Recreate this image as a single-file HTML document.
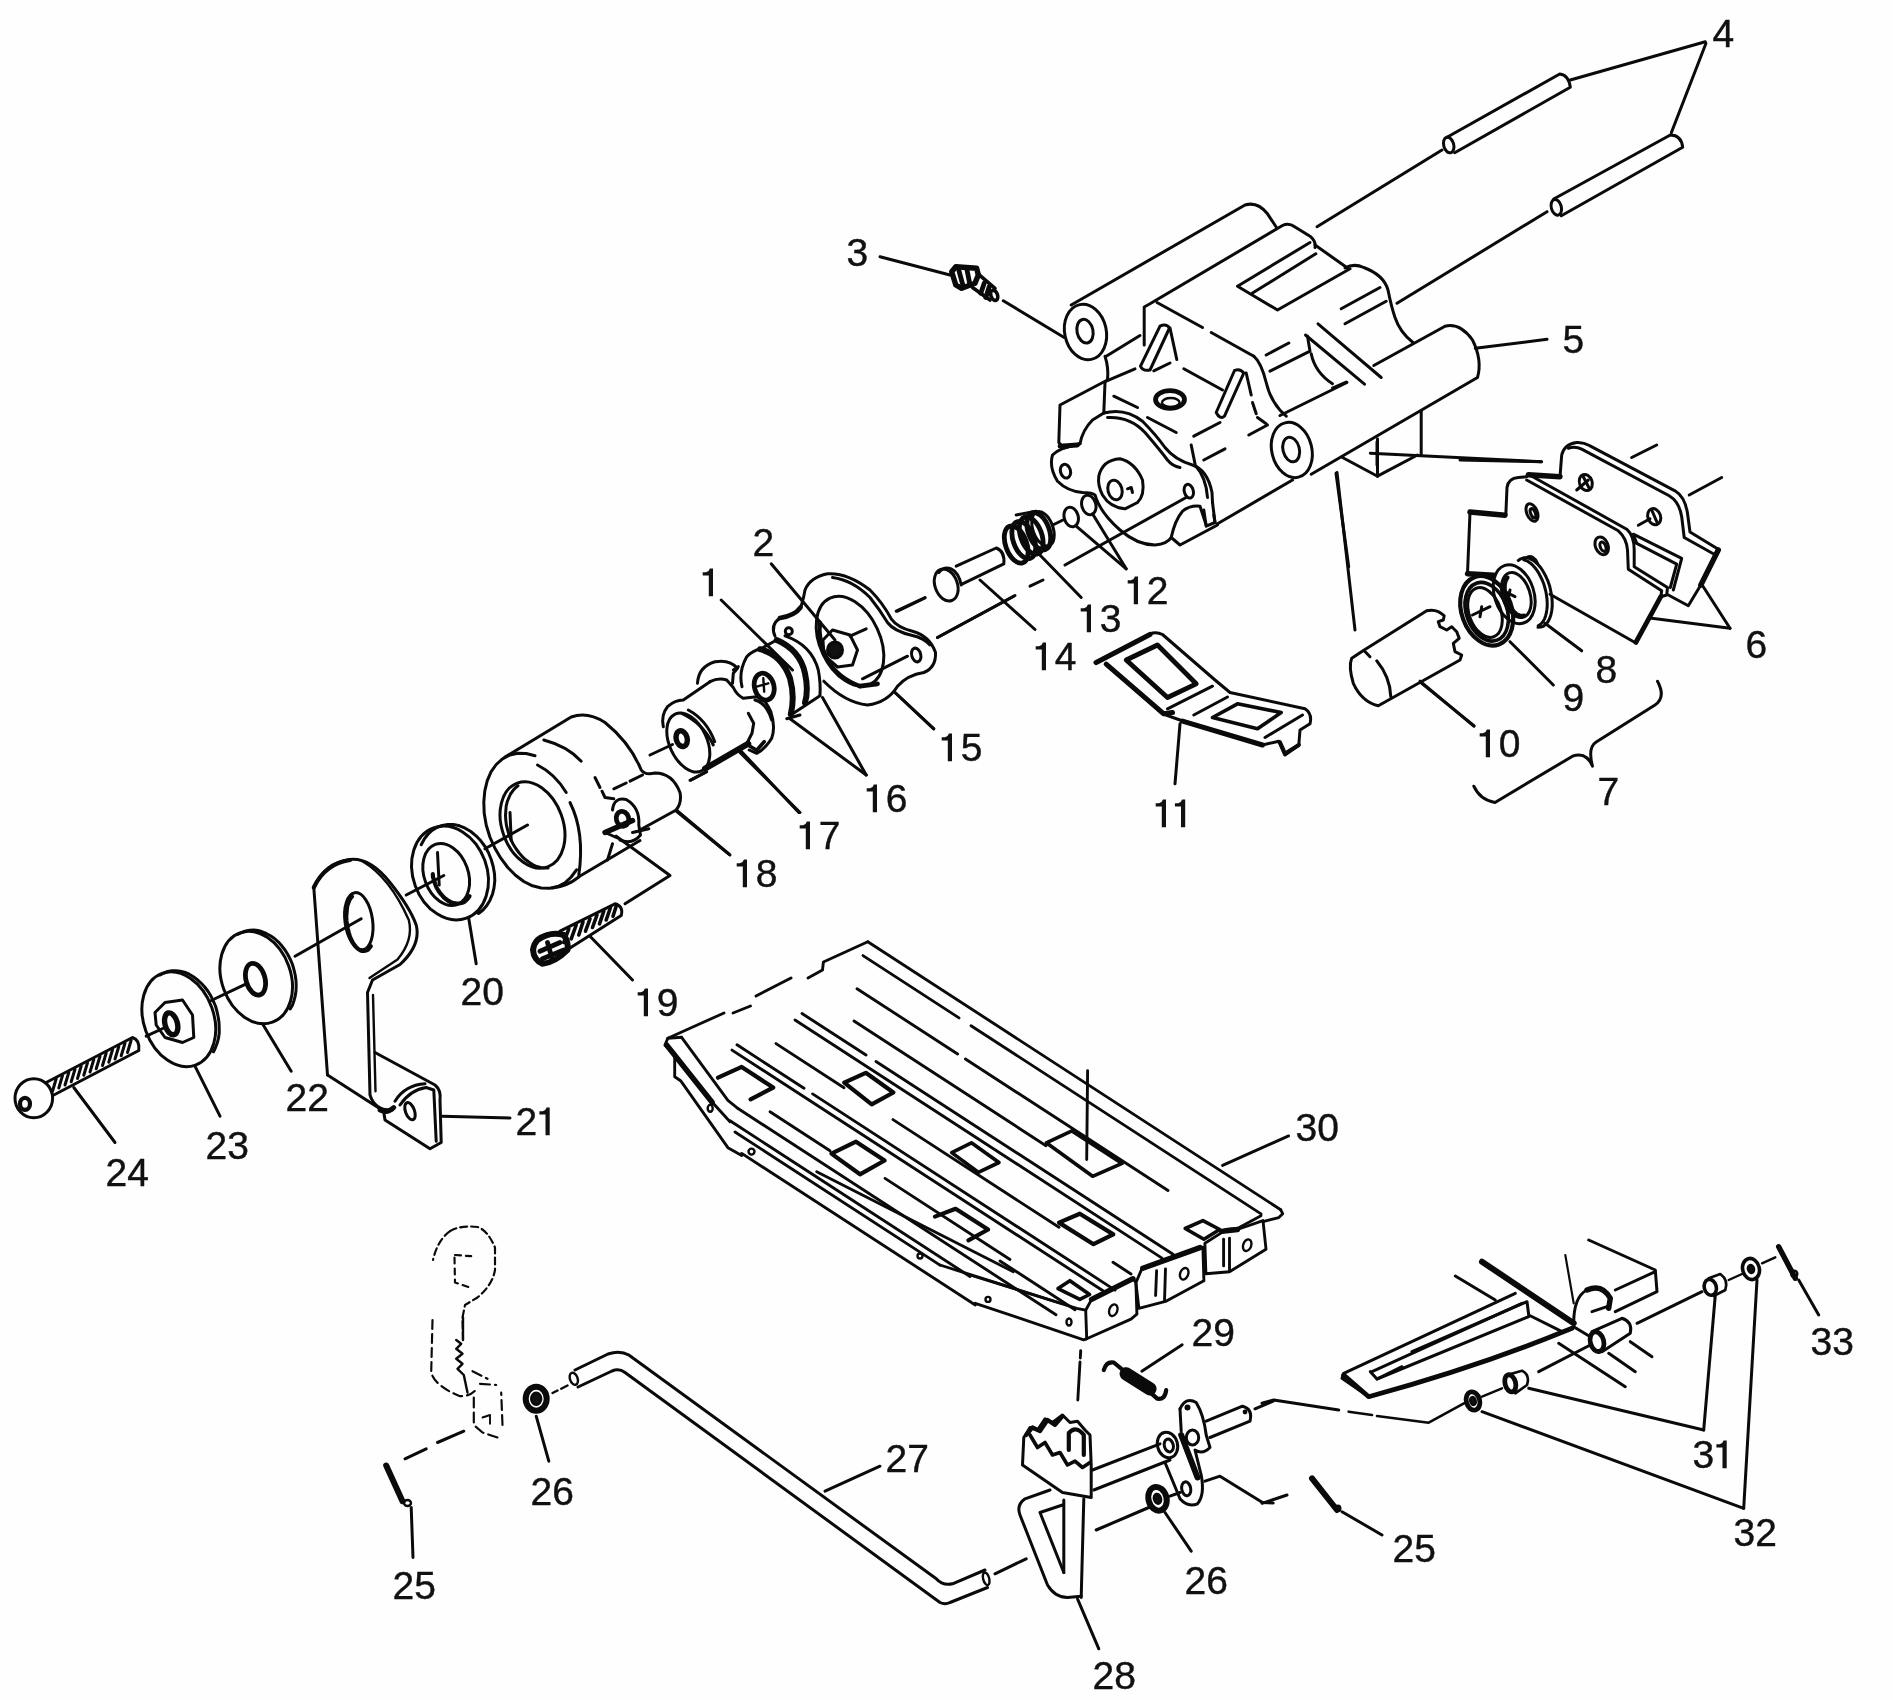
<!DOCTYPE html><html><head><meta charset="utf-8"><style>html,body{margin:0;padding:0;background:#fff}svg{display:block;filter:blur(0.45px)}text{font-family:"Liberation Sans",sans-serif;font-size:39px;fill:#111;stroke:#111;stroke-width:0.4px}</style></head><body>
<svg width="1893" height="1700" viewBox="0 0 1893 1700"><rect width="1893" height="1700" fill="#fefefe"/>
<g fill="none" stroke="#0a0a0a" stroke-linecap="round" stroke-linejoin="round">
<path stroke-width="3.00" d="M 1071.2 305.0 L 1245.0 205.0 Q 1257.5 201.2 1267.5 213.8 L 1276.2 227.0"/>
<path stroke-width="3.00" d="M 1106.2 356.2 L 1140.0 335.5"/>
<path stroke-width="3.00" d="M 1144.2 345.0 L 1144.2 307.0 L 1150.0 303.8 L 1282.5 225.5 Q 1288.8 222.5 1295.0 227.0 L 1310.0 236.2 Q 1316.2 241.2 1315.0 247.5"/>
<path stroke-width="3.00" d="M 1315.0 245.0 L 1347.5 268.0"/>
<path stroke-width="3.00" d="M 1345.0 268.0 Q 1353.8 263.0 1363.8 267.5 Q 1383.8 275.0 1388.0 290.0 Q 1391.2 306.2 1395.0 317.5 Q 1400.0 332.5 1413.0 342.5"/>
<path stroke-width="3.00" d="M 1310.0 242.5 L 1237.5 286.2 L 1277.5 310.0 L 1350.0 268.8"/>
<path stroke-width="3.00" d="M 1252.5 293.0 L 1315.8 253.8"/>
<path stroke-width="3.00" d="M 1341.2 308.8 L 1380.0 287.5"/>
<path stroke-width="3.00" d="M 1345.0 323.8 L 1386.2 301.2"/>
<path stroke-width="3.00" d="M 1318.0 323.8 L 1381.2 377.5"/>
<path stroke-width="3.00" d="M 1305.5 335.0 L 1364.5 384.2"/>
<path stroke-width="3.00" d="M 1157.0 302.5 L 1202.5 327.5"/>
<path stroke-width="3.00" d="M 1211.2 332.5 L 1253.8 356.2"/>
<path stroke-width="3.00" d="M 1183.8 368.8 L 1222.5 390.0"/>
<path stroke-width="3.00" d="M 1113.8 396.2 L 1137.5 407.5"/>
<path stroke-width="3.00" d="M 1147.5 417.5 L 1176.2 432.5"/>
<path stroke-width="3.00" d="M 1266.2 355.0 L 1288.8 343.0"/>
<path stroke-width="3.00" d="M 1270.0 371.2 L 1310.0 351.2 L 1307.5 336.2"/>
<path stroke-width="3.00" d="M 1311.2 353.8 Q 1315.0 372.5 1332.5 383.8"/>
<path stroke-width="3.00" d="M 1332.5 388.0 L 1346.2 382.0"/>
<path stroke-width="3.00" d="M 1253.8 356.2 Q 1261.2 362.5 1266.2 382.5 Q 1271.2 403.8 1286.2 416.2"/>
<path stroke-width="3.00" d="M 1280.0 415.5 L 1347.0 382.5"/>
<path stroke-width="3.00" d="M 1373.8 365.5 L 1445.0 326.2 Q 1460.0 322.5 1472.5 340.0 Q 1482.5 360.0 1477.5 377.5 L 1311.2 474.2"/>
<path stroke-width="3.00" d="M 1342.5 457.5 L 1377.5 476.2 L 1417.5 455.0"/>
<path stroke-width="3.00" d="M 1377.5 438.8 L 1377.5 476.2"/>
<path stroke-width="3.00" d="M 1421.2 411.2 L 1421.2 455.0"/>
<path stroke-width="3.00" d="M 1105.0 356.2 Q 1108.8 367.5 1107.5 380.0 L 1060.0 405.0 L 1058.8 442.5 L 1063.8 448.0 L 1080.0 443.8 Q 1082.5 430.0 1092.5 420.0 L 1103.8 413.0"/>
<path stroke-width="3.00" d="M 1106.2 381.2 L 1135.0 368.8"/>
<path stroke-width="3.00" d="M 1103.8 413.0 L 1105.0 382.5"/>
<path stroke-width="4.80" d="M 1060.0 446.2 L 1077.5 445.0"/>
<path stroke-width="3.00" d="M 1160.0 326.2 L 1140.5 366.2 Q 1142.5 371.2 1150.0 370.0 L 1169.5 328.0 Q 1166.2 323.0 1160.0 326.2"/>
<path stroke-width="3.00" d="M 1170.0 328.0 L 1176.8 359.5"/>
<path stroke-width="3.00" d="M 1153.8 370.8 L 1170.0 363.0"/>
<path stroke-width="3.00" d="M 1234.5 370.5 L 1216.2 412.5 Q 1220.0 420.0 1224.5 416.2 L 1243.8 373.0 Q 1240.0 368.0 1234.5 370.5"/>
<path stroke-width="3.00" d="M 1246.2 373.0 L 1251.2 395.0"/>
<path stroke-width="3.00" d="M 1252.5 402.5 L 1256.2 413.8"/>
<path stroke-width="3.00" d="M 1257.5 417.5 L 1266.2 423.8"/>
<path stroke-width="3.00" d="M 1193.8 436.2 L 1220.0 422.5"/>
<path stroke-width="3.00" d="M 1203.8 460.0 L 1225.0 448.8"/>
<path stroke-width="3.00" d="M 1248.8 435.0 L 1267.5 425.0"/>
<path stroke-width="3.00" d="M 1191.2 445.0 L 1195.0 463.8"/>
<path stroke-width="3.00" d="M 1103.8 413.0 Q 1125.0 407.5 1142.5 421.2 Q 1156.2 435.0 1165.0 447.5 Q 1175.0 460.0 1192.5 465.0 Q 1207.5 470.0 1212.0 492.5 L 1212.5 502.5"/>
<path stroke-width="3.00" d="M 1107.5 417.5 Q 1130.0 416.2 1145.0 432.5 Q 1160.0 450.0 1167.5 460.0 Q 1172.5 466.2 1180.0 467.5"/>
<path stroke-width="3.00" d="M 1195.0 465.0 Q 1206.2 477.5 1207.5 497.5"/>
<path stroke-width="3.00" d="M 1080.0 443.8 Q 1060.0 447.5 1052.5 455.0 Q 1048.8 467.5 1057.5 481.2 Q 1067.5 491.2 1082.5 492.5 Q 1092.5 492.5 1095.0 495.0 Q 1100.0 512.5 1120.0 530.0 Q 1137.5 545.0 1155.0 545.0 Q 1167.5 543.8 1171.2 537.5 Q 1175.0 520.0 1182.5 511.2 Q 1190.0 505.0 1200.0 506.2 L 1206.2 525.0"/>
<path stroke-width="3.00" d="M 1171.2 537.5 L 1180.0 545.0 L 1217.5 525.0"/>
<path stroke-width="3.00" d="M 1203.8 510.0 L 1206.2 526.2 L 1215.0 522.5 L 1213.8 515.0"/>
<path stroke-width="3.00" d="M 1212.5 502.5 L 1215.0 522.5"/>
<path stroke-width="3.00" d="M 1217.5 523.8 L 1292.5 480.0"/>
<path stroke-width="3.00" d="M 1098.8 476.2 Q 1102.5 460.0 1120.0 458.8 Q 1135.0 462.5 1142.5 480.0 Q 1145.0 495.0 1137.5 502.5 L 1125.0 508.8 Q 1110.0 507.5 1102.5 495.0 Q 1097.5 485.0 1098.8 476.2"/>
<path stroke-width="3.00" d="M 1127.5 488.8 L 1131.2 487.5 L 1132.5 492.5"/>
<path stroke-width="3.00" d="M 1447.0 137.3 L 1559.7 74.0 Q 1568.7 75.0 1570.3 87.3 L 1454.7 152.7"/>
<path stroke-width="3.00" d="M 1553.7 199.0 L 1670.3 135.0 Q 1681.3 135.0 1682.7 147.3 L 1561.3 215.7"/>
<path stroke-width="3.00" d="M 1442.0 150.0 L 1317.0 226.7"/>
<path stroke-width="3.00" d="M 1547.0 211.7 L 1397.0 303.3"/>
<path stroke-width="3.00" d="M 1705.3 41.7 L 1570.3 80.0"/>
<path stroke-width="3.00" d="M 1706.0 43.3 L 1671.3 132.7"/>
<path stroke-width="3.00" d="M 1475.3 348.3 L 1547.0 339.3"/>
<path stroke-width="3.00" d="M 1370.3 453.3 L 1541.3 461.7"/>
<path stroke-width="3.00" d="M 1377.0 441.7 L 1377.0 465.0"/>
<path stroke-width="3.00" d="M 1336.0 473.3 L 1348.7 566.7"/>
<path stroke-width="5.40" d="M 1470.0 512.0 L 1505.0 515.3"/>
<path stroke-width="3.00" d="M 1505.8 515.3 L 1507.0 487.5 Q 1508.3 478.3 1518.3 477.5 L 1526.7 476.7"/>
<path stroke-width="3.00" d="M 1528.3 474.2 L 1626.7 529.2 Q 1634.2 535.8 1634.2 550.0 L 1634.2 566.7 L 1667.5 587.5 L 1666.7 595.0 L 1660.8 596.7 L 1661.7 590.8 L 1628.3 569.2 L 1627.5 550.0 Q 1626.7 538.3 1618.3 530.8 L 1526.7 480.0"/>
<path stroke-width="4.80" d="M 1660.8 596.7 L 1635.8 642.5"/>
<path stroke-width="3.00" d="M 1635.0 642.5 L 1550.0 594.2"/>
<path stroke-width="3.00" d="M 1470.0 512.5 L 1467.5 573.3"/>
<path stroke-width="5.40" d="M 1467.5 573.7 L 1493.3 575.3"/>
<path stroke-width="5.40" d="M 1528.3 474.7 L 1560.0 476.7"/>
<path stroke-width="3.00" d="M 1560.0 476.7 L 1561.7 455.0 Q 1564.2 444.2 1576.7 442.5 Q 1583.3 442.0 1590.0 445.8 L 1675.0 490.8 Q 1685.0 496.7 1687.5 513.3 L 1690.0 532.0 L 1718.3 549.2"/>
<path stroke-width="3.00" d="M 1568.3 448.3 Q 1575.0 445.8 1581.7 449.2 L 1669.2 495.8 Q 1679.2 501.7 1681.7 516.7 L 1684.2 537.5 L 1714.2 554.2"/>
<path stroke-width="5.40" d="M 1718.3 550.0 L 1700.8 585.0"/>
<path stroke-width="3.00" d="M 1700.8 585.0 L 1688.3 605.8 L 1668.3 595.0"/>
<path stroke-width="3.00" d="M 1633.3 534.2 L 1681.7 558.3 L 1673.3 590.0"/>
<path stroke-width="3.00" d="M 1636.7 543.3 L 1676.7 564.2 L 1670.3 587.5"/>
<path stroke-width="3.00" d="M 1636.7 543.3 L 1634.2 536.7"/>
<path stroke-width="3.00" d="M 1576.7 490.0 L 1588.3 480.0"/>
<path stroke-width="3.00" d="M 1583.3 476.7 L 1589.2 488.3"/>
<path stroke-width="3.00" d="M 1638.3 525.3 L 1650.0 518.7"/>
<path stroke-width="3.00" d="M 1651.7 510.0 L 1657.5 523.3"/>
<path stroke-width="3.00" d="M 1631.7 457.5 L 1656.7 445.0"/>
<path stroke-width="3.00" d="M 1689.2 495.0 L 1721.7 477.5"/>
<path stroke-width="3.00" d="M 1730.0 628.3 L 1651.7 618.3"/>
<path stroke-width="3.00" d="M 1730.0 628.3 L 1703.3 586.7"/>
<path stroke-width="3.00" d="M 1460.0 460.0 L 1541.7 461.7"/>
<path stroke-width="3.00" d="M 1545.0 623.3 L 1581.7 650.8"/>
<path stroke-width="3.00" d="M 1510.0 641.7 L 1553.3 685.0"/>
<path stroke-width="3.00" d="M 1526.7 557.5 Q 1533.3 554.2 1537.5 563.3"/>
<path stroke-width="3.00" d="M 1501.7 590.0 L 1515.0 596.7 M 1510.0 590.0 L 1508.3 598.3"/>
<path stroke-width="3.00" d="M 1472.5 615.0 L 1490.0 606.7 M 1481.7 606.7 L 1480.0 616.7"/>
<path stroke-width="3.00" d="M 1473.8 786.2 Q 1480.0 800.0 1495.0 802.5 L 1572.5 756.2 Q 1586.2 751.2 1592.5 766.2 Q 1587.5 747.5 1596.2 742.0 L 1655.0 705.0 Q 1666.2 697.5 1657.5 681.2"/>
<path stroke-width="3.00" d="M 1420.0 681.2 L 1473.8 726.2"/>
<path stroke-width="3.00" d="M 1518.3 560.5 L 1520.8 558.8 L 1523.5 557.8 L 1526.3 557.7 L 1529.2 558.3 L 1532.2 559.8 L 1535.2 561.8 L 1538.2 564.7 L 1541.0 568.0 L 1543.5 572.0 L 1545.8 576.3 L 1548.0 581.2 L 1549.7 586.2 L 1550.8 591.3 L 1551.8 596.5 L 1552.2 601.7 L 1552.2 606.5 L 1551.7 611.0 L 1550.8 615.2 L 1549.5 618.8 L 1547.8 622.0 L 1545.7 624.3 L 1543.3 626.2 L 1540.8 627.0 L 1538.0 627.3"/>
<path stroke-width="3.00" d="M 1523.8 559.8 L 1526.0 560.5 L 1528.3 561.7 L 1530.5 563.2 L 1532.7 565.2 L 1534.8 567.5 L 1536.8 570.2 L 1538.8 573.2 L 1540.5 576.5 L 1542.2 580.0 L 1543.7 583.7 L 1544.8 587.5 L 1545.8 591.3 L 1546.5 595.2 L 1547.0 599.2 L 1547.2 602.8 L 1547.2 606.5 L 1546.8 610.0 L 1546.3 613.2 L 1545.5 616.2 L 1544.5 618.8 L 1543.3 621.2 L 1541.8 623.0 L 1540.2 624.5 L 1538.3 625.7"/>
<path stroke-width="4.20" d="M 1524.2 615.7 L 1522.8 615.8 L 1521.3 615.8 L 1519.8 615.7 L 1518.3 615.0 L 1516.8 614.3 L 1515.5 613.2 L 1514.0 611.8 L 1512.5 610.3 L 1511.2 608.7 L 1510.0 606.7 L 1508.8 604.7 L 1507.7 602.3 L 1506.8 600.2 L 1506.0 597.8 L 1505.5 595.3 L 1505.0 593.0 L 1504.7 590.7 L 1504.7 588.3 L 1504.7 586.2 L 1504.8 584.0 L 1505.3 582.2 L 1505.8 580.3 L 1506.7 578.8 L 1507.5 577.5"/>
<path stroke-width="3.00" d="M 1095.0 662.5 L 1150.0 633.8 Q 1156.2 631.2 1162.5 634.5 L 1215.0 680.0 L 1230.0 692.5 L 1305.0 708.8 Q 1312.5 713.8 1310.0 723.8 L 1300.0 730.0 L 1298.8 745.0 L 1285.0 755.0 L 1278.8 741.2 L 1262.5 745.0 L 1180.0 720.0 L 1162.5 713.8 L 1106.2 663.8"/>
<path stroke-width="5.04" d="M 1096.2 662.5 L 1150.0 634.5"/>
<path stroke-width="5.04" d="M 1106.2 664.2 L 1163.8 713.8 L 1172.5 712.5"/>
<path stroke-width="5.04" d="M 1182.5 721.2 L 1262.5 745.0"/>
<path stroke-width="4.80" d="M 1126.2 660.0 L 1157.5 645.0 L 1196.2 683.8 L 1167.5 697.5 Z"/>
<path stroke-width="3.00" d="M 1167.5 708.8 L 1212.5 686.2"/>
<path stroke-width="3.00" d="M 1193.8 715.0 L 1227.5 697.0"/>
<path stroke-width="3.60" d="M 1212.5 717.5 L 1237.5 703.8 L 1281.2 712.5 L 1257.5 728.8 Z"/>
<path stroke-width="3.00" d="M 1265.0 737.5 L 1302.5 715.0"/>
<path stroke-width="4.20" d="M 1280.0 742.5 L 1285.0 753.8 L 1298.8 745.0"/>
<path stroke-width="3.00" d="M 1180.0 723.8 L 1175.0 783.8"/>
<path stroke-width="3.00" d="M 956.2 566.2 L 996.2 548.0 Q 1005.0 551.2 1003.8 563.8 L 962.5 583.8"/>
<path stroke-width="3.00" d="M 938.8 572.5 Q 943.8 566.2 951.2 568.8 Q 958.8 572.5 961.2 585.0"/>
<path stroke-width="3.00" d="M 1016.2 515.0 L 1036.2 511.2"/>
<path stroke-width="3.00" d="M 1126.2 568.8 L 1076.2 526.2"/>
<path stroke-width="3.00" d="M 1126.2 568.8 L 1092.5 513.8"/>
<path stroke-width="3.00" d="M 1081.2 597.5 L 1037.5 552.5"/>
<path stroke-width="3.00" d="M 1035.0 629.5 L 980.0 580.0"/>
<path stroke-width="3.00" d="M 896.2 611.2 L 925.0 597.5"/>
<path stroke-width="3.00" d="M 937.5 637.5 L 1013.8 596.2"/>
<path stroke-width="3.00" d="M 1030.0 586.2 L 1043.0 580.0"/>
<path stroke-width="3.00" d="M 1065.0 565.0 L 1187.0 497.0"/>
<path stroke-width="3.00" d="M 1053.8 524.5 L 1063.0 520.0"/>
<path stroke-width="3.00" d="M 895.0 692.5 L 933.8 728.8"/>
<path stroke-width="3.00" d="M 1337.0 472.5 L 1355.0 630.0"/>
<path stroke-width="3.00" d="M 775.0 636.2 Q 770.0 625.0 780.0 618.0 Q 795.0 616.2 801.2 606.2 Q 803.8 597.5 805.0 590.0 Q 810.0 577.5 827.5 573.8 Q 847.5 572.5 870.0 590.0 Q 882.5 602.5 891.2 618.8 Q 897.5 627.5 912.5 631.2 Q 930.0 636.2 935.5 652.5 Q 936.2 667.5 923.8 672.5 Q 907.5 675.0 897.5 686.2 Q 887.5 702.5 867.5 705.0 Q 845.0 702.5 823.8 681.2"/>
<path stroke-width="3.00" d="M 832.5 577.5 Q 852.5 580.0 870.0 597.5 Q 880.0 610.0 887.5 622.5 Q 893.8 631.2 912.5 635.5 Q 923.8 638.0 930.0 645.0"/>
<path stroke-width="4.80" d="M 780.0 618.0 Q 795.0 615.5 800.5 607.5"/>
<path stroke-width="3.00" d="M 823.0 640.0 L 832.5 630.0 L 850.0 635.0 L 857.5 650.0 L 852.5 665.0 L 837.5 667.0 L 823.8 655.0 Z"/>
<path stroke-width="3.00" d="M 850.0 636.2 L 866.2 628.8"/>
<path stroke-width="4.20" d="M 820.0 622.5 Q 817.5 640.0 827.5 660.0 Q 837.5 677.5 860.0 686.2"/>
<path stroke-width="4.80" d="M 860.0 686.2 L 877.5 683.8"/>
<path stroke-width="3.00" d="M 907.5 656.2 L 862.5 678.8"/>
<path stroke-width="3.00" d="M 650.0 755.0 L 672.5 744.5"/>
<path stroke-width="3.00" d="M 691.2 780.0 L 706.2 772.0"/>
<path stroke-width="3.00" d="M 721.2 600.0 L 792.5 670.0"/>
<path stroke-width="3.00" d="M 771.2 563.8 L 835.0 640.0"/>
<path stroke-width="3.00" d="M 895.0 692.5 L 933.8 728.8"/>
<path stroke-width="3.00" d="M 866.2 775.0 L 822.5 697.5"/>
<path stroke-width="3.00" d="M 866.2 775.0 L 790.0 718.8"/>
<path stroke-width="3.00" d="M 798.8 812.5 L 741.2 751.2"/>
<path stroke-width="3.00" d="M 730.0 855.0 L 676.2 811.2"/>
<path stroke-width="3.00" d="M 897.5 611.2 L 925.0 598.0"/>
<path stroke-width="3.00" d="M 937.5 637.5 L 1015.0 595.5"/>
<path stroke-width="3.00" d="M 663.3 726.7 Q 660.8 715.0 667.5 706.7 Q 675.0 700.0 683.3 700.0 L 710.0 681.7"/>
<path stroke-width="3.00" d="M 681.7 713.3 Q 703.3 723.3 713.3 745.0"/>
<path stroke-width="3.00" d="M 688.3 710.0 Q 706.7 720.0 714.7 741.7"/>
<path stroke-width="6.00" d="M 705.0 768.7 L 748.3 743.7"/>
<path stroke-width="3.00" d="M 690.0 780.3 L 706.7 771.7"/>
<path stroke-width="3.00" d="M 697.5 683.3 Q 698.3 666.7 715.0 661.7 Q 730.0 659.2 737.5 668.3 L 733.3 673.3 L 732.5 683.3"/>
<path stroke-width="3.00" d="M 710.0 681.7 Q 718.3 677.5 726.7 680.0 L 733.3 687.5 Q 736.7 695.0 743.3 698.3 L 756.7 696.7 Q 765.0 698.3 770.8 711.7 Q 775.8 726.7 771.7 738.3 Q 765.0 749.2 756.7 753.3 L 749.2 750.0"/>
<path stroke-width="3.00" d="M 738.3 666.7 L 733.3 670.0"/>
<path stroke-width="3.00" d="M 748.3 713.3 L 753.7 723.3 L 752.0 733.3 L 746.7 743.7"/>
<path stroke-width="3.60" d="M 748.3 745.3 L 756.7 750.3 L 764.2 741.7"/>
<path stroke-width="3.00" d="M 755.0 700.0 Q 766.7 703.3 771.7 720.0"/>
<path stroke-width="3.00" d="M 742.0 686.7 Q 738.3 671.7 746.7 656.7 Q 753.3 650.0 760.0 649.2 L 776.7 640.0"/>
<path stroke-width="6.00" d="M 760.0 649.2 Q 781.7 655.0 790.0 678.3 Q 795.0 696.7 790.8 714.2"/>
<path stroke-width="6.00" d="M 776.7 640.0 Q 800.0 650.0 805.0 673.3 Q 808.7 690.0 805.0 702.5"/>
<path stroke-width="3.00" d="M 785.0 635.8 Q 811.7 645.0 818.3 670.0 Q 820.8 683.3 820.0 695.0"/>
<path stroke-width="3.00" d="M 790.8 715.0 L 820.0 695.8"/>
<path stroke-width="3.00" d="M 786.7 718.7 L 800.0 715.0"/>
<path stroke-width="2.40" d="M 756.7 686.7 L 768.3 683.3 M 763.3 678.3 L 764.2 691.7"/>
<path stroke-width="3.00" d="M 576.5 869.8 L 571.2 877.0 L 565.0 882.8 L 557.8 886.5 L 549.8 888.2 L 541.2 888.0 L 532.5 885.8 L 523.8 881.5 L 515.5 875.2 L 507.8 867.5 L 500.8 858.2 L 494.8 848.0 L 489.8 836.8 L 486.2 825.0 L 484.2 813.2 L 483.8 801.8 L 484.8 790.8 L 487.2 780.8 L 491.0 771.8 L 496.2 764.5 L 502.5 758.8 L 509.8 755.0 L 517.8 753.2 L 526.2 753.5 L 535.0 755.8"/>
<path stroke-width="3.00" d="M 543.8 740.0 Q 567.5 746.2 581.2 761.2"/>
<path stroke-width="3.00" d="M 537.5 765.0 Q 555.0 773.8 566.2 792.5"/>
<path stroke-width="3.00" d="M 570.0 802.5 Q 585.0 832.5 578.8 875.0"/>
<path stroke-width="3.00" d="M 552.5 888.0 Q 567.5 886.2 578.8 877.0"/>
<path stroke-width="3.00" d="M 505.0 757.0 L 571.2 717.0 Q 587.5 711.2 605.0 722.5 Q 630.0 742.5 641.2 770.0 Q 645.0 775.5 655.0 773.0 Q 672.5 773.0 680.0 792.5 Q 682.0 802.5 676.2 810.0 L 641.2 829.2"/>
<path stroke-width="3.00" d="M 640.0 840.5 L 578.8 876.8"/>
<path stroke-width="3.00" d="M 612.5 810.0 Q 613.8 797.0 626.2 799.5 Q 640.0 807.5 638.8 825.0 L 640.5 835.0 Q 632.5 845.0 620.0 840.0"/>
<path stroke-width="5.40" d="M 605.0 832.5 L 632.5 820.5"/>
<path stroke-width="3.00" d="M 605.0 832.5 L 617.5 838.0"/>
<path stroke-width="3.00" d="M 612.5 843.8 L 607.5 860.0"/>
<path stroke-width="3.00" d="M 632.5 832.5 L 648.8 828.8"/>
<path stroke-width="3.00" d="M 613.8 788.8 L 626.2 783.0 M 630.0 781.2 L 642.5 775.0"/>
<path stroke-width="3.00" d="M 595.0 777.5 L 600.0 787.5 M 602.0 791.2 L 605.0 797.5 L 613.8 798.8"/>
<path stroke-width="3.00" d="M 485.0 848.8 L 527.5 825.0"/>
<path stroke-width="3.00" d="M 510.0 812.5 L 511.2 840.5"/>
<path stroke-width="3.00" d="M 676.2 810.0 L 728.8 853.8"/>
<path stroke-width="3.00" d="M 740.0 752.5 L 800.0 812.5"/>
<path stroke-width="3.00" d="M 616.2 836.2 L 670.0 875.5 L 625.0 903.8"/>
<path stroke-width="3.00" d="M 590.0 936.2 L 632.5 980.0"/>
<path stroke-width="3.00" d="M 468.8 918.8 L 476.2 963.8"/>
<path stroke-width="3.00" d="M 560.0 931.2 L 615.0 903.8 Q 623.8 906.2 621.2 915.5 L 570.0 948.0"/>
<path stroke-width="3.60" d="M 563.8 942.5 L 568.8 928.8 M 571.2 938.8 L 576.2 925.0 M 578.8 935.0 L 583.0 922.0 M 585.5 931.2 L 590.0 918.8 M 592.5 927.5 L 597.0 915.0 M 599.5 923.8 L 603.8 911.2 M 606.2 920.0 L 610.5 907.5 M 613.0 916.2 L 616.2 906.2"/>
<path stroke-width="6.00" d="M 537.5 940.0 Q 550.0 931.2 563.8 935.0 Q 568.8 942.5 567.5 950.0 Q 555.0 962.5 542.5 963.8 Q 533.8 960.0 533.0 950.0 Q 533.8 943.8 537.5 940.0 Z"/>
<path stroke-width="4.80" d="M 540.0 951.2 L 560.0 942.5 M 542.5 958.8 L 563.8 950.0 M 547.5 942.5 L 552.5 960.0"/>
<path stroke-width="3.00" d="M 406.2 895.0 L 443.8 875.5"/>
<path stroke-width="3.00" d="M 437.5 852.5 L 439.2 885.0"/>
<path stroke-width="3.00" d="M 548.0 868.0 L 544.2 868.0 L 540.5 867.5 L 536.8 866.5 L 533.0 864.8 L 529.5 862.5 L 525.8 859.8 L 522.5 856.8 L 519.2 853.0 L 516.2 849.0 L 513.5 844.8 L 511.2 840.2 L 509.2 835.5 L 507.8 830.5 L 506.5 825.5 L 505.8 820.5 L 505.5 815.5 L 505.8 810.8 L 506.2 806.0 L 507.2 801.8 L 508.8 797.8 L 510.5 794.0 L 512.8 790.8 L 515.2 788.0 L 518.0 785.8"/>
<path stroke-width="3.00" d="M 421.2 844.8 L 424.2 839.2 L 427.8 834.5 L 432.0 830.5 L 436.8 827.5 L 442.2 825.5 L 447.8 824.5 L 453.5 824.5 L 459.5 825.8 L 465.2 828.2 L 470.8 831.5 L 476.0 835.8 L 480.8 840.8 L 485.0 846.5 L 488.5 852.8 L 491.2 859.5 L 493.2 866.5 L 494.5 873.8 L 494.8 880.8 L 494.0 887.8 L 492.5 894.2 L 490.0 900.2 L 486.8 905.5 L 483.0 910.0 L 478.5 913.5"/>
<path stroke-width="4.20" d="M 469.5 896.2 L 468.2 898.0 L 467.0 899.5 L 465.5 900.8 L 464.0 902.0 L 462.2 902.8 L 460.2 903.2 L 458.5 903.5 L 456.5 903.5 L 454.5 903.2 L 452.5 902.8 L 450.5 902.0 L 448.5 901.0 L 446.5 899.5 L 444.5 898.0 L 442.8 896.2 L 441.0 894.2 L 439.5 892.2 L 438.0 890.0 L 436.5 887.5 L 435.5 885.0 L 434.5 882.2 L 433.8 879.5 L 433.0 877.0 L 432.8 874.2"/>
<path stroke-width="3.00" d="M 327.5 1075.0 L 313.8 887.5 Q 325.0 862.5 350.0 859.5 Q 370.0 857.5 390.0 882.5 Q 410.0 907.5 416.2 925.0 Q 421.2 945.0 400.0 964.5 L 372.5 980.0 L 367.5 992.5 L 370.0 1095.0 Q 375.0 1111.2 392.5 1110.0"/>
<path stroke-width="3.00" d="M 327.5 1075.0 L 380.0 1108.8"/>
<path stroke-width="2.40" d="M 362.5 861.2 Q 390.0 877.5 408.8 920.0 Q 413.8 940.0 397.5 959.5 L 369.5 978.0"/>
<path stroke-width="2.40" d="M 373.0 995.0 L 375.5 1091.2"/>
<path stroke-width="4.20" d="M 313.8 887.5 Q 325.0 863.8 350.0 860.0"/>
<path stroke-width="3.00" d="M 295.0 956.2 L 361.2 918.8"/>
<path stroke-width="3.00" d="M 375.0 1052.5 L 435.0 1085.0 Q 441.2 1090.0 440.0 1100.0 L 441.2 1142.5 L 430.0 1148.8 L 385.0 1120.0 L 383.8 1112.5"/>
<path stroke-width="3.00" d="M 395.0 1101.2 Q 405.0 1085.0 425.0 1083.8"/>
<path stroke-width="3.00" d="M 400.0 1105.0 Q 410.0 1090.0 426.2 1087.5 L 433.8 1090.0 L 436.2 1141.2"/>
<path stroke-width="3.00" d="M 442.5 1116.2 L 510.0 1118.0"/>
<path stroke-width="4.80" d="M 380.0 1110.0 Q 387.5 1113.8 393.8 1107.5"/>
<path stroke-width="3.00" d="M 211.2 1000.5 L 246.2 983.8"/>
<path stroke-width="3.00" d="M 262.5 1023.8 L 291.2 1071.2"/>
<path stroke-width="3.00" d="M 238.2 934.2 L 242.0 932.5 L 245.8 931.0 L 249.8 930.2 L 253.8 930.0 L 258.0 930.5 L 262.2 931.8 L 266.2 933.5 L 270.5 935.8 L 274.5 938.5 L 278.2 941.8 L 281.8 945.8 L 285.0 950.0 L 287.8 954.5 L 290.2 959.2 L 292.5 964.5 L 294.0 969.8 L 295.2 975.0 L 296.0 980.5 L 296.2 985.8 L 296.0 991.0 L 295.2 996.0 L 294.0 1000.5 L 292.5 1005.0 L 290.2 1009.0"/>
<path stroke-width="3.00" d="M 146.2 1036.2 L 165.0 1027.5"/>
<path stroke-width="3.00" d="M 195.0 1066.2 L 220.0 1116.2"/>
<path stroke-width="3.00" d="M 160.2 975.0 L 164.0 973.0 L 167.8 971.5 L 171.8 970.8 L 176.0 970.8 L 180.2 971.2 L 184.5 972.2 L 188.8 974.0 L 193.0 976.5 L 197.0 979.5 L 200.8 982.8 L 204.5 986.8 L 207.8 991.0 L 210.8 995.8 L 213.2 1000.8 L 215.5 1006.0 L 217.0 1011.5 L 218.2 1017.0 L 219.0 1022.5 L 219.2 1027.8 L 219.2 1033.2 L 218.5 1038.2 L 217.2 1043.0 L 215.5 1047.5 L 213.5 1051.8"/>
<path stroke-width="3.00" d="M 155.0 1012.5 L 165.0 1002.5 L 182.5 1000.0 L 192.5 1015.0 L 193.8 1037.5 L 182.5 1042.5 L 165.0 1037.5 L 156.2 1025.0 Z"/>
<path stroke-width="3.00" d="M 46.2 1082.5 L 132.5 1037.5 Q 140.0 1040.0 138.8 1050.5 L 53.8 1095.0"/>
<path stroke-width="3.00" d="M 52.5 1091.2 L 56.2 1078.8 M 58.8 1088.0 L 62.5 1075.5 M 65.0 1085.0 L 68.8 1072.5 M 71.2 1081.8 L 75.0 1069.2 M 77.5 1078.5 L 81.2 1066.0 M 83.8 1075.2 L 87.5 1062.8 M 90.0 1072.0 L 93.8 1059.5 M 96.2 1068.8 L 100.0 1056.2 M 102.5 1065.5 L 106.2 1053.0 M 108.8 1062.2 L 112.5 1049.8 M 115.0 1059.0 L 118.8 1046.5 M 121.2 1055.8 L 125.0 1043.2 M 127.5 1052.5 L 131.2 1040.0"/>
<path stroke-width="3.00" d="M 73.8 1087.5 L 115.0 1142.5"/>
<path stroke-width="4.20" d="M 370.8 946.2 L 369.2 948.2 L 367.8 949.8 L 366.0 950.5 L 364.0 951.0 L 362.2 951.0 L 360.2 950.2 L 358.2 949.0 L 356.2 947.2 L 354.5 945.2 L 352.8 942.5 L 351.2 939.5 L 349.8 936.2 L 348.8 932.8 L 347.8 929.0 L 347.0 925.0 L 346.5 921.0 L 346.2 917.2 L 346.5 913.2 L 346.8 909.8 L 347.2 906.2 L 348.2 903.2 L 349.2 900.5 L 350.5 898.2 L 352.0 896.5"/>
<path stroke-width="2.88" d="M 867.8 941.7 L 1280.7 1209.7"/>
<path stroke-width="2.88" d="M 863.0 955.6 L 959.0 1017.9"/>
<path stroke-width="2.88" d="M 971.0 1025.7 L 1261.0 1213.9"/>
<path stroke-width="2.88" d="M 857.0 988.7 L 957.6 1054.0"/>
<path stroke-width="2.88" d="M 965.4 1059.0 L 1168.0 1190.5"/>
<path stroke-width="2.88" d="M 854.0 1021.0 L 1046.0 1145.7"/>
<path stroke-width="2.88" d="M 802.0 1013.5 L 866.0 1055.0"/>
<path stroke-width="2.88" d="M 876.0 1061.5 L 1173.0 1254.3"/>
<path stroke-width="2.88" d="M 795.0 1020.0 L 1162.0 1258.1"/>
<path stroke-width="2.88" d="M 776.0 1043.6 L 844.0 1087.8"/>
<path stroke-width="2.88" d="M 893.0 1119.6 L 1059.0 1227.3"/>
<path stroke-width="2.88" d="M 1113.0 1262.3 L 1131.0 1274.0"/>
<path stroke-width="2.88" d="M 737.0 1044.8 L 804.0 1088.3"/>
<path stroke-width="2.88" d="M 812.6 1093.9 L 1115.0 1290.1"/>
<path stroke-width="2.88" d="M 732.0 1050.1 L 1103.0 1290.8"/>
<path stroke-width="2.88" d="M 885.0 1178.4 L 1010.0 1259.5"/>
<path stroke-width="2.88" d="M 770.0 1111.7 L 830.0 1150.7"/>
<path stroke-width="2.88" d="M 1000.0 1261.0 L 1075.0 1309.7"/>
<path stroke-width="2.88" d="M 738.0 1108.5 L 1056.0 1314.8"/>
<path stroke-width="2.88" d="M 730.0 1120.8 L 970.0 1276.5"/>
<path stroke-width="2.88" d="M 735.0 1132.0 L 940.0 1265.1"/>
<path stroke-width="2.88" d="M 741.7 1153.4 L 975.3 1305.0"/>
<path stroke-width="2.88" d="M 867.8 941.7 L 823.4 962.0 L 822.5 970.0 L 808.0 978.0"/>
<path stroke-width="2.88" d="M 791.0 978.0 L 756.0 996.0"/>
<path stroke-width="2.88" d="M 750.5 1006.0 L 733.0 1013.0"/>
<path stroke-width="2.88" d="M 724.0 1013.0 L 667.8 1038.3"/>
<path stroke-width="2.88" d="M 681.6 1037.3 L 667.8 1038.3 L 664.9 1045.2 L 674.7 1053.1 L 674.7 1076.7 L 680.6 1080.7 L 727.9 1147.7 L 741.7 1155.5"/>
<path stroke-width="5.40" d="M 666.8 1045.2 L 712.1 1102.3"/>
<path stroke-width="2.88" d="M 681.6 1037.3 L 727.9 1100.4 L 737.8 1108.3"/>
<path stroke-width="2.88" d="M 712.0 1102.0 L 730.0 1121.7"/>
<path stroke-width="2.88" d="M 975.3 1303.3 L 1083.7 1339.8 L 1086.6 1338.8"/>
<path stroke-width="2.88" d="M 970.0 1275.0 L 1076.7 1308.3 L 1085.7 1310.2"/>
<path stroke-width="2.88" d="M 940.0 1265.0 L 1060.0 1303.0"/>
<path stroke-width="2.88" d="M 816.7 1171.7 L 1013.3 1271.7"/>
<path stroke-width="2.88" d="M 1280.7 1209.8 L 1282.7 1213.7 L 1278.8 1217.6 L 1263.0 1221.6"/>
<path stroke-width="2.88" d="M 1261.0 1215.7 L 1237.4 1228.5 L 1225.6 1229.5"/>
<path stroke-width="2.88" d="M 1204.9 1243.3 L 1223.6 1231.4 L 1237.4 1229.5 L 1263.0 1220.6 L 1266.0 1249.2 L 1229.5 1271.8 L 1205.9 1273.8 Z"/>
<path stroke-width="5.40" d="M 1221.6 1231.4 L 1237.4 1229.5"/>
<path stroke-width="2.88" d="M 1223.6 1239.3 L 1223.6 1265.9"/>
<path stroke-width="2.88" d="M 1229.5 1238.3 L 1229.5 1270.8"/>
<path stroke-width="2.88" d="M 1135.9 1282.7 L 1141.8 1268.9 L 1162.5 1261.0 L 1202.9 1247.2 L 1203.9 1280.7 L 1165.5 1301.4 L 1138.9 1308.3 Z"/>
<path stroke-width="5.40" d="M 1142.8 1268.3 L 1200.0 1247.6"/>
<path stroke-width="2.88" d="M 1156.6 1270.8 L 1155.6 1295.5"/>
<path stroke-width="2.88" d="M 1165.5 1268.9 L 1164.5 1301.4"/>
<path stroke-width="2.88" d="M 1085.7 1310.2 L 1091.6 1299.4 L 1133.0 1278.7 L 1135.9 1282.7 L 1136.9 1314.2 L 1131.0 1319.1 L 1086.7 1338.8 Z"/>
<path stroke-width="5.40" d="M 1091.6 1299.4 L 1133.0 1278.7"/>
<path stroke-width="4.20" d="M 718.0 1077.7 L 741.7 1066.9 L 773.2 1087.6 L 750.6 1099.4"/>
<path stroke-width="4.20" d="M 844.2 1082.6 L 865.8 1072.8 L 893.4 1092.5 L 871.7 1104.3 Z"/>
<path stroke-width="4.20" d="M 831.4 1153.6 L 856.0 1141.7 L 884.6 1160.5 L 860.0 1174.3 Z"/>
<path stroke-width="3.60" d="M 951.7 1152.6 L 971.4 1142.8 L 999.0 1162.5 L 978.3 1172.3 Z"/>
<path stroke-width="3.60" d="M 1046.3 1142.8 L 1071.9 1130.9 L 1122.1 1163.4 L 1092.6 1176.3 Z"/>
<path stroke-width="4.20" d="M 934.9 1216.6 L 955.6 1208.8 L 988.1 1229.5 L 968.4 1240.3"/>
<path stroke-width="4.20" d="M 1059.0 1222.6 L 1079.8 1213.7 L 1113.3 1234.4 L 1093.5 1244.2 Z"/>
<path stroke-width="3.60" d="M 1185.2 1228.5 L 1202.9 1220.6 L 1219.7 1229.5 L 1203.9 1239.3 Z"/>
<path stroke-width="3.60" d="M 1058.0 1288.6 L 1069.9 1280.7 L 1089.6 1294.5 L 1079.8 1299.4 Z"/>
<path stroke-width="2.88" d="M 1087.6 1070.8 L 1086.7 1159.5"/>
<path stroke-width="2.88" d="M 1222.6 1165.4 L 1288.6 1135.9"/>
<path stroke-width="2.88" d="M 1182.2 1344.7 L 1141.8 1371.3"/>
<path stroke-width="2.88" d="M 1080.7 1350.6 L 1080.3 1358.0"/>
<path stroke-width="2.88" d="M 1080.0 1362.0 L 1077.8 1400.0"/>
<path stroke-width="2.16" stroke-dasharray="7 4" d="M 450.0 1231.2 Q 460.0 1225.0 477.5 1227.0 Q 487.5 1230.0 495.0 1247.5 L 495.0 1270.0 Q 492.5 1285.0 477.5 1297.5 L 465.0 1305.0 L 462.5 1317.5 L 463.0 1340.0"/>
<path stroke-width="2.16" stroke-dasharray="7 4" d="M 450.0 1231.2 Q 437.5 1240.0 433.0 1260.0"/>
<path stroke-width="2.16" stroke-dasharray="9 5" d="M 432.5 1320.0 L 431.2 1372.5 Q 435.0 1386.2 460.0 1396.2 Q 472.5 1396.2 477.5 1387.5"/>
<path stroke-width="2.40" d="M 456.2 1340.0 L 461.2 1343.8 L 456.2 1348.8 L 462.5 1353.8 L 456.2 1358.8 L 462.5 1363.8 L 457.5 1368.8 L 463.8 1375.0 L 467.5 1392.5"/>
<path stroke-width="2.40" d="M 463.0 1317.5 L 463.0 1340.0"/>
<path stroke-width="2.16" stroke-dasharray="6 5" d="M 455.0 1255.0 L 471.2 1256.2 M 454.5 1257.5 L 455.0 1282.5 L 470.0 1287.5"/>
<path stroke-width="2.16" stroke-dasharray="10 5" d="M 473.8 1397.5 L 473.8 1425.0 L 482.5 1432.5 L 497.5 1437.5 M 502.5 1425.0 L 501.2 1392.5 M 480.0 1383.8 L 496.2 1385.0 M 472.5 1371.2 L 487.5 1378.8"/>
<path stroke-width="1.92" d="M 482.5 1417.5 L 490.0 1415.0 L 490.0 1423.8"/>
<path stroke-width="3.00" d="M 463.8 1431.2 L 437.5 1442.5"/>
<path stroke-width="3.00" d="M 426.2 1448.8 L 405.0 1458.8"/>
<path stroke-width="6.00" d="M 386.2 1465.5 L 402.5 1501.2"/>
<path stroke-width="3.00" d="M 411.2 1507.5 L 413.0 1557.5"/>
<path stroke-width="3.00" d="M 536.2 1416.2 L 548.8 1461.2"/>
<path stroke-width="2.40" d="M 552.5 1393.0 L 557.5 1390.5 M 561.2 1388.8 L 567.5 1385.5"/>
<path stroke-width="3.00" d="M 575.0 1370.0 L 608.0 1354.0 Q 620.0 1350.0 628.8 1355.0 L 936.3 1578.8 Q 942.5 1586.0 952.5 1583.8 L 985.0 1570.0"/>
<path stroke-width="3.00" d="M 578.0 1387.0 L 612.0 1371.0 Q 619.0 1368.0 625.0 1372.5 L 940.0 1602.5 Q 945.0 1605.0 950.0 1602.5 L 987.5 1587.5"/>
<path stroke-width="3.00" d="M 825.0 1491.2 L 880.0 1466.2"/>
<path stroke-width="3.00" d="M 995.0 1573.8 L 1026.2 1558.8"/>
<path stroke-width="3.00" d="M 1023.8 1437.5 L 1030.0 1427.5 L 1037.5 1430.0 L 1045.0 1418.8 L 1052.5 1422.5 L 1062.5 1415.0 L 1070.0 1422.5 L 1077.5 1421.2 L 1085.0 1430.0 L 1090.0 1435.0 L 1091.2 1465.0 L 1091.2 1497.5 L 1062.5 1492.5 L 1022.5 1465.0 Z"/>
<path stroke-width="3.60" d="M 1030.0 1435.0 L 1037.5 1447.5 L 1045.0 1442.5 L 1052.5 1455.0 L 1060.0 1452.5 L 1067.5 1465.0 L 1075.0 1461.2 L 1082.5 1467.5 L 1090.0 1462.5"/>
<path stroke-width="4.20" d="M 1026.2 1435.0 L 1032.5 1427.5 L 1040.0 1431.2 L 1047.5 1420.0 L 1055.0 1425.0 L 1062.5 1416.2"/>
<path stroke-width="4.20" d="M 1068.8 1450.0 L 1068.8 1433.0 Q 1076.2 1425.0 1083.8 1435.0 L 1083.8 1455.0"/>
<path stroke-width="3.00" d="M 1063.8 1500.0 L 1063.8 1572.5"/>
<path stroke-width="3.00" d="M 1083.8 1498.8 L 1081.2 1597.5"/>
<path stroke-width="3.00" d="M 1050.0 1490.0 L 1025.0 1498.8 Q 1016.2 1505.0 1020.0 1515.0 L 1047.5 1585.0 Q 1055.0 1597.5 1067.5 1597.5 L 1081.2 1596.2"/>
<path stroke-width="3.00" d="M 1062.5 1505.0 L 1040.0 1512.5 L 1063.8 1572.5"/>
<path stroke-width="3.00" d="M 1092.5 1470.0 L 1160.0 1443.8"/>
<path stroke-width="3.00" d="M 1093.8 1490.0 L 1170.0 1460.0"/>
<path stroke-width="3.00" d="M 1180.0 1408.8 Q 1186.2 1396.2 1196.2 1402.5 Q 1203.8 1415.0 1206.2 1435.0 L 1210.0 1447.5 Q 1202.5 1455.0 1195.0 1450.0 L 1201.2 1475.0 Q 1205.0 1495.0 1197.5 1503.8 Q 1187.5 1507.5 1180.0 1498.8 L 1165.0 1462.5"/>
<path stroke-width="3.00" d="M 1180.0 1408.8 L 1181.2 1431.2"/>
<path stroke-width="6.00" d="M 1181.2 1435.0 L 1197.5 1477.5"/>
<path stroke-width="3.00" d="M 1206.2 1421.2 L 1242.5 1406.2 Q 1253.0 1408.8 1250.0 1421.2 L 1210.0 1437.5"/>
<path stroke-width="3.00" d="M 1165.0 1512.5 L 1191.2 1551.2"/>
<path stroke-width="3.00" d="M 1096.2 1530.0 L 1148.8 1507.5"/>
<path stroke-width="3.00" d="M 1170.0 1496.2 L 1180.0 1492.5"/>
<path stroke-width="3.00" d="M 1205.0 1481.2 L 1220.0 1476.2 L 1262.5 1502.5 L 1273.2 1503.0"/>
<path stroke-width="3.00" d="M 1255.0 1408.8 L 1273.2 1401.2"/>
<path stroke-width="3.00" d="M 1077.5 1598.8 L 1098.8 1648.8"/>
<path stroke-width="4.20" d="M 1103.8 1370.0 Q 1106.2 1361.2 1113.8 1362.5 L 1127.5 1373.8"/>
<path stroke-width="13.20" d="M 1126.2 1373.8 L 1150.0 1388.8"/>
<path stroke-width="4.20" d="M 1148.8 1391.2 L 1157.5 1398.8 Q 1165.0 1400.0 1166.2 1390.0"/>
<path stroke-width="3.00" d="M 1262.0 1403.3 L 1273.7 1400.0 L 1338.7 1410.0"/>
<path stroke-width="2.64" d="M 1348.7 1411.7 L 1372.0 1415.0 M 1377.0 1416.0 L 1428.7 1422.7 L 1465.3 1402.7"/>
<path stroke-width="3.00" d="M 1262.0 1503.3 L 1287.0 1495.0"/>
<path stroke-width="6.00" d="M 1312.0 1478.3 L 1337.0 1510.0"/>
<path stroke-width="3.00" d="M 1342.0 1511.7 L 1382.0 1535.0"/>
<path stroke-width="2.40" d="M 1482.0 1396.7 L 1502.0 1388.3"/>
<path stroke-width="3.00" d="M 1703.7 1430.0 L 1528.7 1388.3"/>
<path stroke-width="3.00" d="M 1703.7 1430.0 L 1715.3 1295.0"/>
<path stroke-width="3.00" d="M 1743.7 1508.3 L 1482.0 1411.7"/>
<path stroke-width="3.00" d="M 1743.7 1508.3 L 1757.0 1280.0"/>
<path stroke-width="5.40" d="M 1778.7 1246.7 L 1795.3 1278.3"/>
<path stroke-width="3.00" d="M 1798.7 1280.0 L 1818.7 1315.0"/>
<path stroke-width="3.00" d="M 1637.0 1323.3 L 1702.0 1291.7"/>
<path stroke-width="2.40" d="M 1728.7 1280.0 L 1742.0 1274.0"/>
<path stroke-width="2.40" d="M 1762.0 1263.3 L 1775.3 1257.3"/>
<path stroke-width="3.00" d="M 1515.3 1293.3 L 1343.7 1373.3 L 1342.0 1378.3 L 1368.7 1396.7"/>
<path stroke-width="4.80" d="M 1343.7 1375.0 L 1368.7 1396.7 Q 1478.7 1366.7 1572.0 1328.3"/>
<path stroke-width="3.00" d="M 1372.0 1371.7 L 1522.0 1303.3"/>
<path stroke-width="3.00" d="M 1377.0 1379.0 L 1528.7 1316.7"/>
<path stroke-width="3.00" d="M 1412.0 1351.7 L 1527.0 1301.7 L 1528.7 1315.0 L 1562.0 1331.7"/>
<path stroke-width="3.00" d="M 1370.3 1371.7 L 1377.0 1379.0 L 1402.0 1366.7"/>
<path stroke-width="6.00" d="M 1482.0 1261.7 L 1573.7 1323.3"/>
<path stroke-width="3.00" d="M 1455.3 1276.0 L 1495.3 1300.0"/>
<path stroke-width="2.16" d="M 1565.3 1255.0 L 1573.7 1303.3"/>
<path stroke-width="3.00" d="M 1573.7 1323.3 Q 1573.7 1296.7 1587.0 1290.0"/>
<path stroke-width="5.40" d="M 1587.0 1290.0 Q 1602.0 1283.3 1610.3 1298.3 L 1608.7 1308.3"/>
<path stroke-width="3.00" d="M 1588.7 1240.0 L 1655.3 1270.0 L 1657.0 1291.7 L 1615.3 1311.7"/>
<path stroke-width="3.00" d="M 1615.3 1290.0 L 1655.3 1271.7"/>
<path stroke-width="3.00" d="M 1592.0 1311.7 L 1607.0 1306.7"/>
<path stroke-width="3.00" d="M 1592.0 1331.7 L 1622.0 1318.3 Q 1632.7 1321.7 1630.3 1333.3 L 1602.0 1351.7"/>
<path stroke-width="3.00" d="M 1630.3 1341.7 L 1652.0 1356.7"/>
<path stroke-width="3.00" d="M 1608.7 1353.3 L 1635.3 1371.7"/>
<path stroke-width="3.00" d="M 1558.7 1343.3 L 1625.3 1386.7"/>
<path stroke-width="3.00" d="M 1538.7 1371.7 L 1590.3 1345.0"/>
<path stroke-width="3.00" d="M 1573.7 1326.7 L 1590.3 1336.7"/>
<path stroke-width="2.64" d="M 1507.0 1375.0 L 1522.0 1370.7 Q 1530.3 1375.0 1527.0 1385.0 L 1515.3 1393.3"/>
<path stroke-width="2.64" d="M 1708.7 1278.3 L 1720.3 1274.0 Q 1728.7 1280.0 1725.3 1290.0 L 1713.7 1296.0"/>
<path stroke-width="3.00" d="M 880.0 256.7 L 950.0 275.0"/>
<path stroke-width="3.00" d="M 1003.3 300.8 L 1064.2 337.5"/>
<path stroke-width="5.40" d="M 951.7 271.7 L 955.8 266.7 L 976.7 268.3 L 978.3 275.0 L 975.0 283.3 L 961.7 288.3 L 955.8 285.0 Z"/>
<path stroke-width="4.80" d="M 958.3 268.3 L 963.3 286.7 M 966.7 268.3 L 970.0 285.0"/>
<path stroke-width="3.60" d="M 977.5 273.3 L 995.0 288.3 M 972.5 287.5 L 990.0 300.0"/>
<path stroke-width="4.80" d="M 984.2 283.3 L 980.8 293.3 M 989.2 286.7 L 985.8 297.5"/>
<path stroke-width="3.00" d="M 1391.7 698.3 L 1378.3 705.8 Q 1361.7 701.7 1353.3 683.3 Q 1348.3 666.7 1351.7 658.3 L 1364.2 650.0 L 1426.7 610.8 Q 1436.7 608.3 1444.2 615.8 L 1443.3 620.0 L 1438.3 621.7 L 1440.0 626.7 L 1446.7 630.0 L 1451.7 626.7 L 1456.7 631.7 L 1459.2 638.3 L 1453.3 643.3 L 1455.0 651.7 L 1461.7 655.0 L 1460.0 660.0 L 1391.7 698.3"/>
<path stroke-width="3.00" d="M 1364.2 650.8 L 1370.0 656.7"/>
<path stroke-width="3.00" d="M 1376.7 660.8 Q 1390.0 676.7 1390.8 696.7"/>
<path stroke-width="3.00" d="M 1421.7 683.3 L 1474.2 725.8"/>
<ellipse stroke-width="3.00" cx="1085.5" cy="332.0" rx="20.8" ry="28.0" transform="rotate(-12 1085.5 332.0)"/>
<ellipse stroke-width="3.00" cx="1085.0" cy="331.2" rx="8.0" ry="12.0" transform="rotate(-12 1085.0 331.2)"/>
<ellipse stroke-width="3.00" cx="1291.8" cy="450.0" rx="20.0" ry="28.0" transform="rotate(-14 1291.8 450.0)"/>
<ellipse stroke-width="3.00" cx="1291.2" cy="449.5" rx="8.2" ry="12.5" transform="rotate(-14 1291.2 449.5)"/>
<ellipse stroke-width="4.80" cx="1170.0" cy="399.5" rx="14.5" ry="8.8" transform="rotate(0 1170.0 399.5)"/>
<ellipse stroke-width="2.40" cx="1170.8" cy="402.5" rx="8.8" ry="4.5" transform="rotate(0 1170.8 402.5)"/>
<ellipse stroke-width="3.00" cx="1065.5" cy="471.2" rx="5.0" ry="7.0" transform="rotate(-15 1065.5 471.2)"/>
<ellipse stroke-width="3.00" cx="1115.0" cy="490.0" rx="7.0" ry="10.0" transform="rotate(-15 1115.0 490.0)"/>
<ellipse stroke-width="3.00" cx="1188.8" cy="491.2" rx="4.5" ry="7.0" transform="rotate(-15 1188.8 491.2)"/>
<ellipse stroke-width="3.00" cx="1448.7" cy="145.0" rx="5.0" ry="8.0" transform="rotate(-15 1448.7 145.0)"/>
<ellipse stroke-width="3.00" cx="1556.3" cy="207.3" rx="5.0" ry="8.0" transform="rotate(-15 1556.3 207.3)"/>
<ellipse stroke-width="3.00" cx="1532.0" cy="512.5" rx="5.3" ry="9.2" transform="rotate(-22 1532.0 512.5)"/>
<ellipse stroke-width="3.00" cx="1533.0" cy="513.3" rx="2.3" ry="5.0" transform="rotate(-22 1533.0 513.3)"/>
<ellipse stroke-width="3.00" cx="1601.7" cy="545.8" rx="6.3" ry="9.2" transform="rotate(-22 1601.7 545.8)"/>
<ellipse stroke-width="3.00" cx="1603.0" cy="546.7" rx="2.7" ry="5.0" transform="rotate(-22 1603.0 546.7)"/>
<ellipse stroke-width="3.00" cx="1585.8" cy="482.5" rx="6.3" ry="8.3" transform="rotate(-20 1585.8 482.5)"/>
<ellipse stroke-width="3.00" cx="1654.2" cy="516.7" rx="6.3" ry="8.3" transform="rotate(-20 1654.2 516.7)"/>
<ellipse stroke-width="3.00" cx="1514.2" cy="594.2" rx="19.7" ry="30.3" transform="rotate(-18 1514.2 594.2)"/>
<ellipse stroke-width="3.00" cx="1516.3" cy="595.0" rx="13.7" ry="23.3" transform="rotate(-18 1516.3 595.0)"/>
<ellipse stroke-width="4.20" cx="1486.7" cy="610.8" rx="25.0" ry="35.8" transform="rotate(-20 1486.7 610.8)"/>
<ellipse stroke-width="3.60" cx="1486.7" cy="611.7" rx="20.3" ry="30.3" transform="rotate(-20 1486.7 611.7)"/>
<ellipse stroke-width="3.00" cx="1485.0" cy="612.5" rx="15.8" ry="25.8" transform="rotate(-20 1485.0 612.5)"/>
<ellipse stroke-width="3.00" cx="946.2" cy="585.0" rx="11.2" ry="16.5" transform="rotate(-20 946.2 585.0)"/>
<ellipse stroke-width="4.80" cx="1016.2" cy="544.5" rx="10.5" ry="19.5" transform="rotate(-20 1016.2 544.5)"/>
<ellipse stroke-width="4.80" cx="1023.8" cy="540.0" rx="10.5" ry="19.5" transform="rotate(-20 1023.8 540.0)"/>
<ellipse stroke-width="4.80" cx="1031.2" cy="535.5" rx="10.5" ry="19.5" transform="rotate(-20 1031.2 535.5)"/>
<ellipse stroke-width="4.80" cx="1038.8" cy="531.2" rx="10.5" ry="19.5" transform="rotate(-20 1038.8 531.2)"/>
<ellipse stroke-width="3.00" cx="1043.0" cy="528.8" rx="10.0" ry="18.0" transform="rotate(-20 1043.0 528.8)"/>
<ellipse stroke-width="3.00" cx="1071.2" cy="517.0" rx="7.0" ry="10.0" transform="rotate(-15 1071.2 517.0)"/>
<ellipse stroke-width="3.00" cx="1088.8" cy="505.0" rx="7.0" ry="10.0" transform="rotate(-15 1088.8 505.0)"/>
<ellipse stroke-width="3.00" cx="850.0" cy="641.2" rx="30.0" ry="47.5" transform="rotate(-25 850.0 641.2)"/>
<ellipse stroke-width="3.00" cx="916.2" cy="655.0" rx="4.5" ry="7.0" transform="rotate(-15 916.2 655.0)"/>
<ellipse stroke-width="3.00" cx="788.8" cy="631.2" rx="3.5" ry="3.5" transform="rotate(0 788.8 631.2)"/>
<ellipse stroke-width="3.00" fill="#111" cx="835.0" cy="650.0" rx="7.5" ry="8.0" transform="rotate(0 835.0 650.0)"/>
<ellipse stroke-width="3.00" cx="688.3" cy="742.5" rx="18.7" ry="31.3" transform="rotate(-25 688.3 742.5)"/>
<ellipse stroke-width="5.40" cx="681.7" cy="738.7" rx="5.5" ry="8.0" transform="rotate(-15 681.7 738.7)"/>
<ellipse stroke-width="4.80" cx="764.2" cy="686.7" rx="9.7" ry="13.7" transform="rotate(-15 764.2 686.7)"/>
<ellipse stroke-width="3.00" cx="532.5" cy="825.0" rx="30.5" ry="44.5" transform="rotate(-20 532.5 825.0)"/>
<ellipse stroke-width="3.00" cx="450.0" cy="873.0" rx="37.0" ry="48.0" transform="rotate(-20 450.0 873.0)"/>
<ellipse stroke-width="3.00" cx="446.2" cy="874.5" rx="22.0" ry="32.0" transform="rotate(-20 446.2 874.5)"/>
<ellipse stroke-width="4.80" cx="622.5" cy="818.8" rx="6.2" ry="7.5" transform="rotate(-15 622.5 818.8)"/>
<ellipse stroke-width="3.00" cx="358.8" cy="921.2" rx="13.8" ry="28.8" transform="rotate(-8 358.8 921.2)"/>
<ellipse stroke-width="3.00" cx="410.0" cy="1111.2" rx="4.5" ry="9.0" transform="rotate(-20 410.0 1111.2)"/>
<ellipse stroke-width="3.00" cx="256.2" cy="977.5" rx="34.5" ry="47.5" transform="rotate(-20 256.2 977.5)"/>
<ellipse stroke-width="4.80" cx="255.5" cy="979.2" rx="9.5" ry="16.2" transform="rotate(-15 255.5 979.2)"/>
<ellipse stroke-width="3.00" cx="178.8" cy="1019.2" rx="35.0" ry="48.8" transform="rotate(-20 178.8 1019.2)"/>
<ellipse stroke-width="5.40" cx="171.2" cy="1023.8" rx="6.2" ry="11.2" transform="rotate(-15 171.2 1023.8)"/>
<ellipse stroke-width="3.00" cx="33.8" cy="1098.2" rx="18.8" ry="19.5" transform="rotate(0 33.8 1098.2)"/>
<ellipse stroke-width="4.20" cx="25.0" cy="1103.8" rx="5.0" ry="6.0" transform="rotate(0 25.0 1103.8)"/>
<ellipse stroke-width="2.40" cx="1247.2" cy="1245.2" rx="4.0" ry="6.0" transform="rotate(20 1247.2 1245.2)"/>
<ellipse stroke-width="2.40" cx="1184.2" cy="1273.8" rx="4.0" ry="6.0" transform="rotate(20 1184.2 1273.8)"/>
<ellipse stroke-width="2.40" cx="1113.3" cy="1310.2" rx="4.0" ry="6.0" transform="rotate(20 1113.3 1310.2)"/>
<ellipse stroke-width="2.40" cx="988.0" cy="1299.4" rx="2.5" ry="2.5" transform="rotate(0 988.0 1299.4)"/>
<ellipse stroke-width="2.40" cx="1069.0" cy="1322.0" rx="2.5" ry="3.5" transform="rotate(0 1069.0 1322.0)"/>
<ellipse stroke-width="2.40" cx="751.5" cy="1151.6" rx="3.0" ry="3.0" transform="rotate(0 751.5 1151.6)"/>
<ellipse stroke-width="2.40" cx="710.2" cy="1108.3" rx="2.5" ry="3.5" transform="rotate(0 710.2 1108.3)"/>
<ellipse stroke-width="2.40" cx="920.0" cy="1256.0" rx="2.5" ry="2.5" transform="rotate(0 920.0 1256.0)"/>
<ellipse stroke-width="6.00" cx="536.2" cy="1398.8" rx="10.5" ry="12.0" transform="rotate(0 536.2 1398.8)"/>
<ellipse stroke-width="2.40" fill="#111" cx="536.2" cy="1398.8" rx="5.0" ry="6.0" transform="rotate(0 536.2 1398.8)"/>
<ellipse stroke-width="2.40" cx="573.8" cy="1378.8" rx="3.8" ry="6.2" transform="rotate(-20 573.8 1378.8)"/>
<ellipse stroke-width="2.40" cx="407.5" cy="1503.0" rx="3.5" ry="3.0" transform="rotate(0 407.5 1503.0)"/>
<ellipse stroke-width="2.40" cx="986.2" cy="1578.8" rx="3.0" ry="6.5" transform="rotate(-15 986.2 1578.8)"/>
<ellipse stroke-width="3.00" cx="1167.5" cy="1445.0" rx="10.0" ry="13.0" transform="rotate(-15 1167.5 1445.0)"/>
<ellipse stroke-width="3.00" cx="1168.8" cy="1445.5" rx="4.5" ry="6.5" transform="rotate(-15 1168.8 1445.5)"/>
<ellipse stroke-width="2.40" fill="#111" cx="1187.5" cy="1407.5" rx="1.8" ry="1.8" transform="rotate(0 1187.5 1407.5)"/>
<ellipse stroke-width="3.00" cx="1192.5" cy="1437.5" rx="6.2" ry="7.5" transform="rotate(0 1192.5 1437.5)"/>
<ellipse stroke-width="3.00" cx="1186.2" cy="1488.8" rx="4.5" ry="7.0" transform="rotate(-10 1186.2 1488.8)"/>
<ellipse stroke-width="6.00" cx="1157.5" cy="1498.8" rx="9.0" ry="12.0" transform="rotate(-15 1157.5 1498.8)"/>
<ellipse stroke-width="2.40" fill="#111" cx="1157.5" cy="1498.8" rx="3.5" ry="5.0" transform="rotate(-15 1157.5 1498.8)"/>
<ellipse stroke-width="2.40" fill="#111" cx="1245.0" cy="1412.0" rx="1.2" ry="1.2" transform="rotate(0 1245.0 1412.0)"/>
<ellipse stroke-width="4.80" cx="1473.0" cy="1401.0" rx="6.7" ry="9.3" transform="rotate(-15 1473.0 1401.0)"/>
<ellipse stroke-width="2.40" fill="#111" cx="1473.0" cy="1401.0" rx="2.7" ry="4.0" transform="rotate(-15 1473.0 1401.0)"/>
<ellipse stroke-width="4.80" cx="1510.3" cy="1383.3" rx="5.3" ry="8.7" transform="rotate(-15 1510.3 1383.3)"/>
<ellipse stroke-width="3.60" cx="1710.3" cy="1287.3" rx="6.0" ry="8.0" transform="rotate(-15 1710.3 1287.3)"/>
<ellipse stroke-width="3.60" cx="1751.0" cy="1269.0" rx="8.3" ry="10.7" transform="rotate(-15 1751.0 1269.0)"/>
<ellipse stroke-width="2.40" fill="#111" cx="1751.0" cy="1269.0" rx="3.0" ry="4.0" transform="rotate(-15 1751.0 1269.0)"/>
<ellipse stroke-width="4.80" cx="1597.0" cy="1341.7" rx="6.7" ry="10.0" transform="rotate(-15 1597.0 1341.7)"/>
<ellipse stroke-width="2.40" cx="1794.3" cy="1274.0" rx="3.0" ry="3.3" transform="rotate(0 1794.3 1274.0)"/>
<ellipse stroke-width="2.40" fill="#111" cx="1338.0" cy="1508.3" rx="2.3" ry="2.7" transform="rotate(0 1338.0 1508.3)"/>
<ellipse stroke-width="3.60" cx="994.2" cy="295.3" rx="3.3" ry="5.3" transform="rotate(-20 994.2 295.3)"/>
</g>
<text x="1712.5" y="47.3">4</text>
<text x="1562.5" y="353.3">5</text>
<text x="1745.5" y="658.3">6</text>
<text x="1595.5" y="682.8">8</text>
<text x="1562.5" y="710.8">9</text>
<path fill="#111" stroke="none" d="M6.3 0 L6.3 -20.8 L0.2 -20.8 L0.2 -24 L3.5 -24 Q6.6 -24.6 7.4 -27.7 L10.5 -27.7 L10.5 0 Z" transform="translate(1479.5 757.3)"/>
<text x="1498.7" y="757.3">0</text>
<text x="1597.5" y="805.3">7</text>
<path fill="#111" stroke="none" d="M6.3 0 L6.3 -20.8 L0.2 -20.8 L0.2 -24 L3.5 -24 Q6.6 -24.6 7.4 -27.7 L10.5 -27.7 L10.5 0 Z" transform="translate(1127.5 604.3)"/>
<text x="1146.7" y="604.3">2</text>
<path fill="#111" stroke="none" d="M6.3 0 L6.3 -20.8 L0.2 -20.8 L0.2 -24 L3.5 -24 Q6.6 -24.6 7.4 -27.7 L10.5 -27.7 L10.5 0 Z" transform="translate(1080.5 632.3)"/>
<text x="1099.7" y="632.3">3</text>
<path fill="#111" stroke="none" d="M6.3 0 L6.3 -20.8 L0.2 -20.8 L0.2 -24 L3.5 -24 Q6.6 -24.6 7.4 -27.7 L10.5 -27.7 L10.5 0 Z" transform="translate(1035.5 670.3)"/>
<text x="1054.7" y="670.3">4</text>
<path fill="#111" stroke="none" d="M6.3 0 L6.3 -20.8 L0.2 -20.8 L0.2 -24 L3.5 -24 Q6.6 -24.6 7.4 -27.7 L10.5 -27.7 L10.5 0 Z" transform="translate(941.5 761.3)"/>
<text x="960.7" y="761.3">5</text>
<path fill="#111" stroke="none" d="M6.3 0 L6.3 -20.8 L0.2 -20.8 L0.2 -24 L3.5 -24 Q6.6 -24.6 7.4 -27.7 L10.5 -27.7 L10.5 0 Z" transform="translate(1155.5 827.3)"/>
<path fill="#111" stroke="none" d="M6.3 0 L6.3 -20.8 L0.2 -20.8 L0.2 -24 L3.5 -24 Q6.6 -24.6 7.4 -27.7 L10.5 -27.7 L10.5 0 Z" transform="translate(1174.7 827.3)"/>
<text x="752.5" y="556.3">2</text>
<path fill="#111" stroke="none" d="M6.3 0 L6.3 -20.8 L0.2 -20.8 L0.2 -24 L3.5 -24 Q6.6 -24.6 7.4 -27.7 L10.5 -27.7 L10.5 0 Z" transform="translate(702.5 596.3)"/>
<path fill="#111" stroke="none" d="M6.3 0 L6.3 -20.8 L0.2 -20.8 L0.2 -24 L3.5 -24 Q6.6 -24.6 7.4 -27.7 L10.5 -27.7 L10.5 0 Z" transform="translate(866.5 812.3)"/>
<text x="885.7" y="812.3">6</text>
<path fill="#111" stroke="none" d="M6.3 0 L6.3 -20.8 L0.2 -20.8 L0.2 -24 L3.5 -24 Q6.6 -24.6 7.4 -27.7 L10.5 -27.7 L10.5 0 Z" transform="translate(799.5 849.3)"/>
<text x="818.7" y="849.3">7</text>
<path fill="#111" stroke="none" d="M6.3 0 L6.3 -20.8 L0.2 -20.8 L0.2 -24 L3.5 -24 Q6.6 -24.6 7.4 -27.7 L10.5 -27.7 L10.5 0 Z" transform="translate(736.5 887.3)"/>
<text x="755.7" y="887.3">8</text>
<text x="460.5" y="1005.3">20</text>
<path fill="#111" stroke="none" d="M6.3 0 L6.3 -20.8 L0.2 -20.8 L0.2 -24 L3.5 -24 Q6.6 -24.6 7.4 -27.7 L10.5 -27.7 L10.5 0 Z" transform="translate(637.5 1016.3)"/>
<text x="656.7" y="1016.3">9</text>
<text x="285.5" y="1111.3">22</text>
<text x="205.5" y="1159.3">23</text>
<text x="105.5" y="1186.3">24</text>
<text x="515.5" y="1135.3">2</text>
<path fill="#111" stroke="none" d="M6.3 0 L6.3 -20.8 L0.2 -20.8 L0.2 -24 L3.5 -24 Q6.6 -24.6 7.4 -27.7 L10.5 -27.7 L10.5 0 Z" transform="translate(539.2 1135.3)"/>
<text x="1295.5" y="1141.3">30</text>
<text x="1191.5" y="1346.3">29</text>
<text x="392.5" y="1599.3">25</text>
<text x="530.5" y="1505.3">26</text>
<text x="885.5" y="1472.3">27</text>
<text x="1184.5" y="1594.3">26</text>
<text x="1092.5" y="1689.3">28</text>
<text x="1692.5" y="1468.3">3</text>
<path fill="#111" stroke="none" d="M6.3 0 L6.3 -20.8 L0.2 -20.8 L0.2 -24 L3.5 -24 Q6.6 -24.6 7.4 -27.7 L10.5 -27.7 L10.5 0 Z" transform="translate(1716.2 1468.3)"/>
<text x="1733.5" y="1546.3">32</text>
<text x="1810.5" y="1355.3">33</text>
<text x="1392.5" y="1562.3">25</text>
<text x="846.5" y="266.3">3</text>
</svg></body></html>
